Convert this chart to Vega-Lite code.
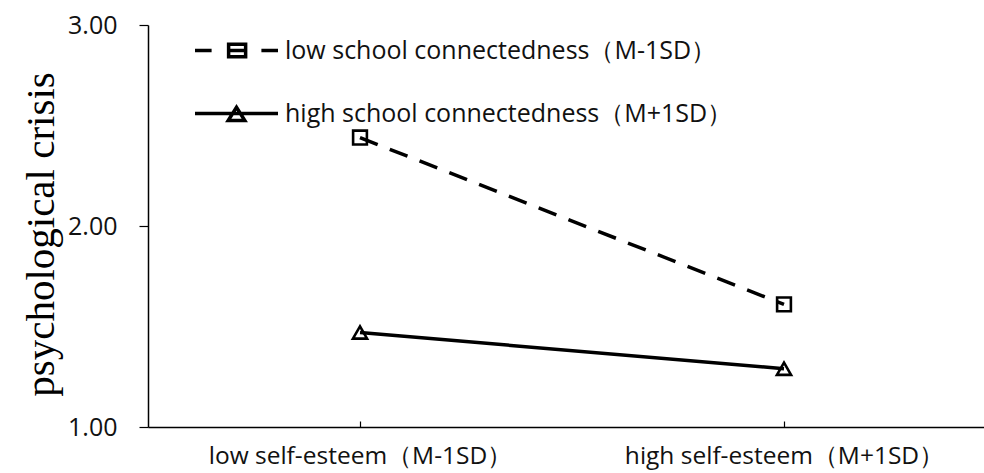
{
  "$schema": "https://vega.github.io/schema/vega-lite/v6.json",
  "autosize": {"type": "none"},
  "padding": {"left": 148, "top": 25, "right": 0, "bottom": 46},
  "width": 836,
  "height": 402,
  "background": "white",
  "data": {
    "values": [
      {"selfEsteem": "low self-esteem（M-1SD）", "group": "low school connectedness（M-1SD）", "crisis": 2.44},
      {"selfEsteem": "high self-esteem（M+1SD）", "group": "low school connectedness（M-1SD）", "crisis": 1.61},
      {"selfEsteem": "low self-esteem（M-1SD）", "group": "high school connectedness（M+1SD）", "crisis": 1.47},
      {"selfEsteem": "high self-esteem（M+1SD）", "group": "high school connectedness（M+1SD）", "crisis": 1.29}
    ]
  },
  "config": {
    "view": {"stroke": null},
    "font": "Open Sans"
  },
  "encoding": {
    "x": {
      "field": "selfEsteem",
      "type": "ordinal",
      "sort": ["low self-esteem（M-1SD）", "high self-esteem（M+1SD）"],
      "scale": {"type": "point", "padding": 0.48585, "align": 0.51456},
      "axis": {
        "title": null,
        "labelAngle": 0,
        "labelFont": "Open Sans",
        "labelFontSize": 24.5,
        "labelLimit": 600,
        "labelColor": "#111",
        "domainColor": "#000",
        "domainWidth": 1.5,
        "tickColor": "#000",
        "tickWidth": 1.2,
        "tickSize": -6,
        "labelPadding": 23
      }
    },
    "y": {
      "field": "crisis",
      "type": "quantitative",
      "scale": {"domain": [1, 3], "nice": false, "zero": false},
      "axis": {
        "title": "psychological crisis",
        "titleFont": "Liberation Serif",
        "titleFontSize": 41,
        "titleFontWeight": "normal",
        "titleColor": "#000",
        "titlePadding": 5,
        "titleY": 209,
        "values": [1, 2, 3],
        "format": ".2f",
        "grid": false,
        "labelFont": "Open Sans",
        "labelFontSize": 25,
        "labelColor": "#111",
        "labelPadding": 22,
        "domainColor": "#000",
        "domainWidth": 1.5,
        "tickColor": "#000",
        "tickWidth": 1.2,
        "tickSize": 9
      }
    }
  },
  "layer": [
    {
      "transform": [{"filter": "datum.group === 'low school connectedness（M-1SD）'"}],
      "mark": {"type": "line", "color": "#000", "strokeWidth": 3.5, "strokeDash": [19, 13]},
      "encoding": {}
    },
    {
      "transform": [{"filter": "datum.group === 'high school connectedness（M+1SD）'"}],
      "mark": {"type": "line", "color": "#000", "strokeWidth": 3.5},
      "encoding": {}
    },
    {
      "transform": [{"filter": "datum.group === 'low school connectedness（M-1SD）'"}],
      "mark": {"type": "point", "shape": "square", "filled": false, "stroke": "#000", "strokeWidth": 2.6, "size": 190, "opacity": 1}
    },
    {
      "transform": [{"filter": "datum.group === 'high school connectedness（M+1SD）'"}],
      "mark": {"type": "point", "shape": "triangle-up", "filled": false, "stroke": "#000", "strokeWidth": 2.6, "size": 200, "opacity": 1}
    },
    {
      "mark": {"type": "point", "filled": false, "opacity": 1, "strokeOpacity": 0, "stroke": "#000"},
      "encoding": {
        "shape": {
          "field": "group",
          "type": "nominal",
          "scale": {
            "domain": ["low school connectedness（M-1SD）", "high school connectedness（M+1SD）"],
            "range": [
              "M-1,0H-0.6M-0.19,-0.15H0.22V0.15H-0.19ZM-0.19,0H0.22M0.6,0H1",
              "M-1,0H1M-0.2,0.17L0.2,0.17L0,-0.15Z"
            ]
          },
          "legend": {
            "title": null,
            "orient": "none",
            "legendX": 45,
            "legendY": -18,
            "symbolSize": 6889,
            "symbolStrokeWidth": 3.5,
            "symbolStrokeColor": "#000",
            "symbolFillColor": "white",
            "symbolOpacity": 1,
            "labelFont": "Open Sans",
            "labelFontSize": 25,
            "labelColor": "#111",
            "labelLimit": 600,
            "labelOffset": 5,
            "rowPadding": 6,
            "encode": {
              "symbols": {
                "update": {
                  "opacity": {"value": 1},
                  "fill": {"value": "white"},
                  "fillOpacity": {"value": 1},
                  "stroke": {"value": "#000"},
                  "strokeOpacity": {"value": 1},
                  "strokeWidth": {"value": 3.5}
                }
              }
            }
          }
        }
      }
    }
  ]
}
